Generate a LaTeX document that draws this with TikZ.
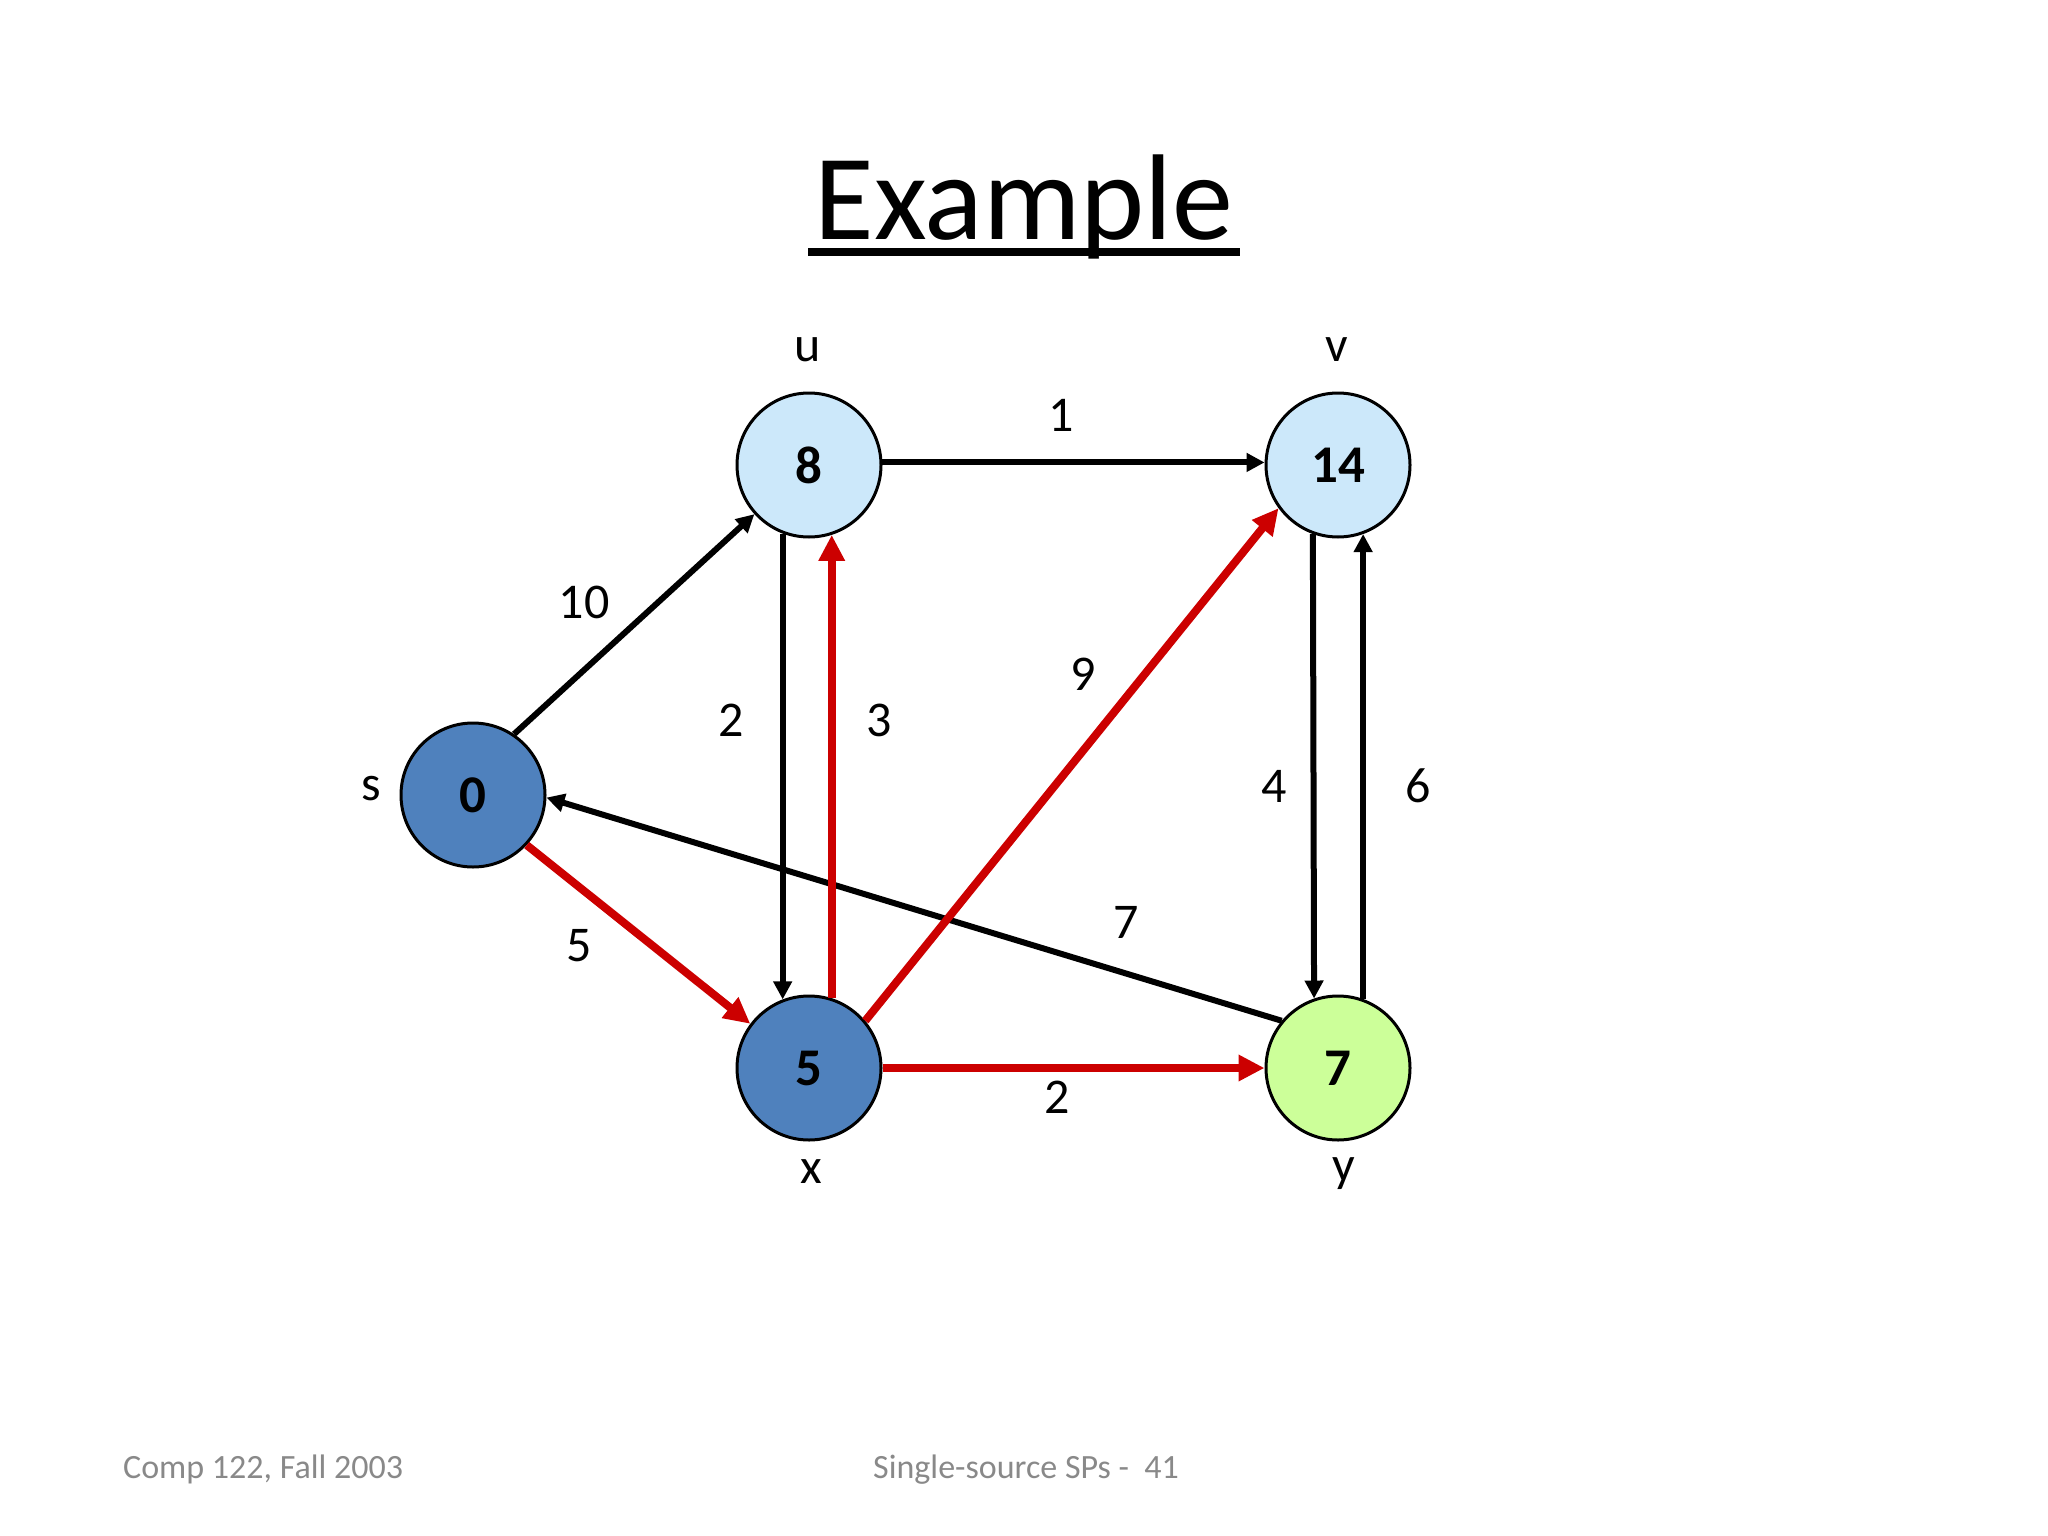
\documentclass[tikz,border=0pt]{standalone}
\usepackage{fontspec}
\setmainfont{Carlito}
\usetikzlibrary{arrows.meta,calc}
\definecolor{darkblue}{RGB}{79,129,189}
\definecolor{lightblue}{RGB}{204,232,250}
\definecolor{lightgreen}{RGB}{204,255,153}
\definecolor{redpath}{RGB}{204,0,0}
\definecolor{footgray}{RGB}{137,137,137}
\newcommand{\vnum}[1]{\raisebox{-4pt}{#1}}
\tikzset{
  vertex/.style={circle,draw=black,line width=3pt,minimum size=144pt,inner sep=0pt,
    font=\fontsize{53}{60}\selectfont\bfseries},
  lbl/.style={font=\fontsize{50}{60}\selectfont,inner sep=0pt},
  plain/.style={draw=black,line width=6pt,-{Triangle[length=18pt,width=18pt]}},
  tree/.style={draw=redpath,line width=8pt,-{Triangle[length=26pt,width=25pt]}},
  foot/.style={font=\fontsize{34}{40}\selectfont,text=footgray,inner sep=0pt,anchor=base west}
}
\begin{document}
\begin{tikzpicture}[x=1pt,y=-1pt]
\useasboundingbox (0,0) rectangle (2048,1536);
% title
\node[anchor=base,inner sep=0pt,font=\fontsize{122}{140}\selectfont] (title) at (1024,239) {Example};
\draw[line width=7.5pt] (808,252) -- (1240,252);
% vertices
\node[vertex,fill=darkblue]  (s) at (473,795)  {\vnum{0}};
\node[vertex,fill=lightblue] (u) at (809,465)  {\vnum{8}};
\node[vertex,fill=lightblue] (v) at (1338,465) {\vnum{14}};
\node[vertex,fill=darkblue]  (x) at (809,1068) {\vnum{5}};
\node[vertex,fill=lightgreen](y) at (1338,1068){\vnum{7}};
% vertex names
\node[lbl] (ls) at (371,789) {s};
\node[lbl] (lu) at (808,350) {u};
\node[lbl] (lv) at (1337,350) {v};
\node[lbl] (lx) at (811,1172) {x};
\node[lbl] (ly) at (1344,1174) {y};
% black edges
\path[plain] (s.56) -- (u.222);
\path[plain] (u.2) -- (v.178);
\path[plain] (u.249) -- (x.111);
\path[plain] (v.250.5) -- (y.109.5);
\path[plain] (y.70) -- (v.290);
\path[plain] (y.140) -- (s.-2);
% red edges
\path[tree] (s.-43) -- (x.143);
\path[tree] (x.72) -- (u.288);
\path[tree] (x.40) -- (v.216.5);
\path[tree] (x.east) -- (y.west);
% edge weights
\node[lbl] (w1)  at (1061,415) {1};
\node[lbl] (w10) at (584,602)  {10};
\node[lbl] (w2a) at (731,720)  {2};
\node[lbl] (w3)  at (879,720)  {3};
\node[lbl] (w9)  at (1083,674) {9};
\node[lbl] (w4)  at (1274,786) {4};
\node[lbl] (w6)  at (1418,786) {6};
\node[lbl] (w7)  at (1126,922) {7};
\node[lbl] (w5)  at (579,946)  {5};
\node[lbl] (w2b) at (1057,1097){2};
% footer
\node[foot] (f1) at (123,1478) {Comp 122, Fall 2003};
\node[foot] (f2) at (873,1478) {Single-source SPs -\ \ 41};
\end{tikzpicture}
\end{document}
